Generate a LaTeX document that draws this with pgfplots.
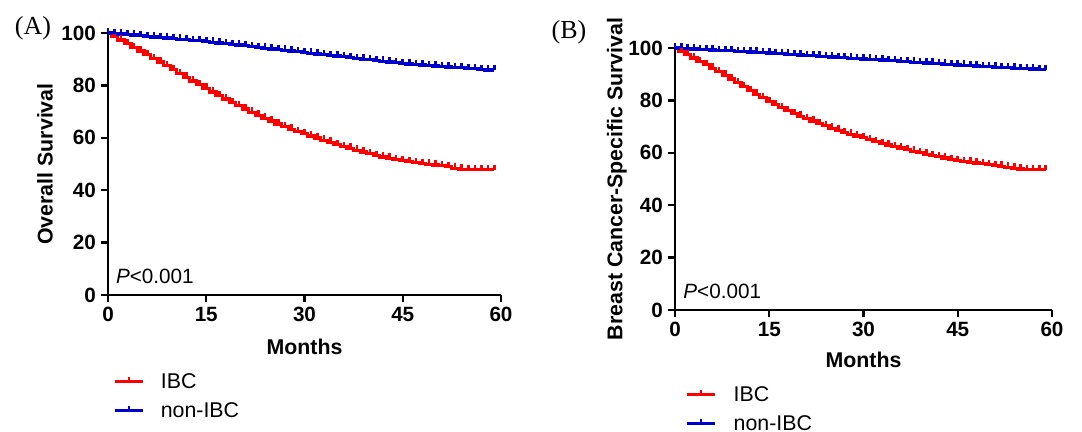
\documentclass[border=0pt]{standalone}
\usepackage{pgfplots}
\pgfplotsset{compat=1.18}
\usepackage{fontspec}
\setmainfont{Liberation Sans}
\newfontfamily\serifA{Liberation Serif}
\definecolor{kmred}{RGB}{255,0,0}
\definecolor{kmblue}{RGB}{0,0,204}
\pgfdeclareplotmark{cens}{%
  \pgfpathmoveto{\pgfqpoint{0pt}{0pt}}%
  \pgfpathlineto{\pgfqpoint{0pt}{3.6pt}}%
  \pgfusepathqstroke}
\pgfplotsset{
  kmstyle/.style={
    scale only axis,
    axis lines=left,
    axis line style={-, line width=1.8pt, black},
    xmin=0, xmax=60, ymin=0, ymax=100,
    xtick={0,15,30,45,60},
    ytick={0,20,40,60,80,100},
    tick align=outside,
    major tick length=5.5pt,
    every tick/.style={black, line width=1.8pt},
    /pgf/number format/assume math mode=true,
    tick label style={font=\fontsize{15.5}{16}\selectfont\bfseries},
    label style={font=\fontsize{16}{17}\selectfont\bfseries},
    xlabel={Months},
    clip=false,
    legend cell align=left,
    legend style={draw=none, fill=none, font=\fontsize{16}{17}\selectfont,
      row sep=6pt, inner sep=0pt,
      nodes={inner sep=1.5pt}},
    /tikz/every odd column/.append style={column sep=11pt},
  },
  kmline/.style={const plot mark mid, line width=2.4pt, mark=cens,
    mark options={line width=1.9pt},
    legend image code/.code={%
      \draw[line width=2.4pt] (0pt,0pt) -- (21pt,0pt);
      \draw[line width=1.6pt] (10.5pt,0pt) -- (10.5pt,3.6pt);
    }},
}
\begin{document}
\begin{tikzpicture}
\path[use as bounding box] (0,0) rectangle (811.5pt,324pt);
% Panel A
\begin{axis}[kmstyle,
  at={(81pt,102.75pt)}, anchor=south west,
  width=294.75pt, height=196.5pt,
  ylabel={Overall Survival},
  ylabel style={at={(axis description cs:-0.16,0.5)}, anchor=center},
  xlabel style={at={(axis description cs:0.5,-0.198)}, anchor=center},
  legend style={at={(axis description cs:0.012,-0.29)}, anchor=north west},
]
\addplot[kmline, kmred] coordinates {
(0,100) (1,98.7) (2,97.3) (3,95.9) (4,94.5) (5,93.1) (6,91.7) (7,90.3) (8,88.9) (9,87.5)
(10,86.1) (11,84.6) (12,83.1) (13,81.7) (14,80.3) (15,78.9) (16,77.5) (17,76.1) (18,74.8) (19,73.5)
(20,72.2) (21,71.0) (22,69.8) (23,68.6) (24,67.5) (25,66.4) (26,65.3) (27,64.3) (28,63.3) (29,62.4)
(30,61.5) (31,60.7) (32,59.9) (33,59.1) (34,58.3) (35,57.5) (36,56.7) (37,56.0) (38,55.3) (39,54.6)
(40,53.9) (41,53.3) (42,52.7) (43,52.2) (44,51.7) (45,51.3) (46,50.9) (47,50.5) (48,50.2) (49,49.9)
(50,49.6) (51,49.3) (52,48.9) (53,48.4) (54,48.0) (55,47.8) (56,47.8) (57,47.8) (58,47.8) (59,47.8)
};
\addlegendentry{IBC}
\addplot[kmline, kmblue] coordinates {
(0,100) (1,99.8) (2,99.6) (3,99.4) (4,99.2) (5,99.0) (6,98.7) (7,98.5) (8,98.3) (9,98.1)
(10,97.9) (11,97.6) (12,97.4) (13,97.2) (14,97.0) (15,96.8) (16,96.5) (17,96.2) (18,95.9) (19,95.6)
(20,95.4) (21,95.1) (22,94.8) (23,94.5) (24,94.2) (25,93.9) (26,93.7) (27,93.4) (28,93.1) (29,92.8)
(30,92.6) (31,92.3) (32,92.0) (33,91.7) (34,91.4) (35,91.2) (36,90.9) (37,90.6) (38,90.3) (39,90.0)
(40,89.8) (41,89.5) (42,89.2) (43,88.9) (44,88.6) (45,88.4) (46,88.2) (47,88.0) (48,87.8) (49,87.6)
(50,87.4) (51,87.2) (52,87.0) (53,86.9) (54,86.7) (55,86.5) (56,86.3) (57,86.1) (58,85.9) (59,85.8)
};
\addlegendentry{non-IBC}
\node[anchor=west, inner sep=0pt, font=\fontsize{15.5}{16}\selectfont] at (axis cs:1.2,7) {\textit{P}<0.001};
\node[anchor=center, inner sep=0pt, font=\serifA\fontsize{19.5}{20}\selectfont] at (axis description cs:-0.191,1.02) {(A)};
\end{axis}
% Panel B
\begin{axis}[kmstyle,
  at={(506.25pt,91.5pt)}, anchor=south west,
  width=282.75pt, height=196.5pt,
  ylabel={Breast Cancer-Specific Survival},
  ylabel style={at={(axis description cs:-0.154,0.5)}, anchor=center},
  xlabel style={at={(axis description cs:0.5,-0.19)}, anchor=center},
  legend style={at={(axis description cs:0.028,-0.283)}, anchor=north west},
]
\addplot[kmline, kmred] coordinates {
(0,100) (1,98.8) (2,97.5) (3,96.2) (4,94.9) (5,93.6) (6,92.3) (7,91.0) (8,89.6) (9,88.2)
(10,86.8) (11,85.3) (12,83.8) (13,82.4) (14,81.0) (15,79.6) (16,78.4) (17,77.2) (18,76.1) (19,75.0)
(20,74.0) (21,73.0) (22,72.1) (23,71.2) (24,70.3) (25,69.4) (26,68.6) (27,67.8) (28,67.1) (29,66.4)
(30,65.7) (31,65.0) (32,64.3) (33,63.6) (34,63.0) (35,62.4) (36,61.8) (37,61.2) (38,60.6) (39,60.0)
(40,59.5) (41,59.0) (42,58.5) (43,58.0) (44,57.5) (45,57.0) (46,56.7) (47,56.4) (48,56.1) (49,55.8)
(50,55.5) (51,55.2) (52,54.9) (53,54.5) (54,54.1) (55,53.8) (56,53.6) (57,53.6) (58,53.6) (59,53.6)
};
\addlegendentry{IBC}
\addplot[kmline, kmblue] coordinates {
(0,100) (1,99.9) (2,99.8) (3,99.6) (4,99.5) (5,99.4) (6,99.2) (7,99.1) (8,99.0) (9,98.9)
(10,98.7) (11,98.6) (12,98.5) (13,98.4) (14,98.2) (15,98.1) (16,97.9) (17,97.8) (18,97.6) (19,97.5)
(20,97.3) (21,97.2) (22,97.0) (23,96.9) (24,96.7) (25,96.6) (26,96.4) (27,96.3) (28,96.1) (29,96.0)
(30,95.8) (31,95.7) (32,95.5) (33,95.4) (34,95.2) (35,95.1) (36,94.9) (37,94.8) (38,94.6) (39,94.5)
(40,94.3) (41,94.2) (42,94.0) (43,93.8) (44,93.7) (45,93.5) (46,93.4) (47,93.3) (48,93.1) (49,93.0)
(50,92.9) (51,92.7) (52,92.6) (53,92.5) (54,92.3) (55,92.2) (56,92.1) (57,92.0) (58,91.8) (59,91.7)
};
\addlegendentry{non-IBC}
\node[anchor=west, inner sep=0pt, font=\fontsize{15.5}{16}\selectfont] at (axis cs:1.3,7) {\textit{P}<0.001};
\node[anchor=center, inner sep=0pt, font=\serifA\fontsize{19.5}{20}\selectfont] at (axis description cs:-0.281,1.06) {(B)};
\end{axis}
\end{tikzpicture}
\end{document}
